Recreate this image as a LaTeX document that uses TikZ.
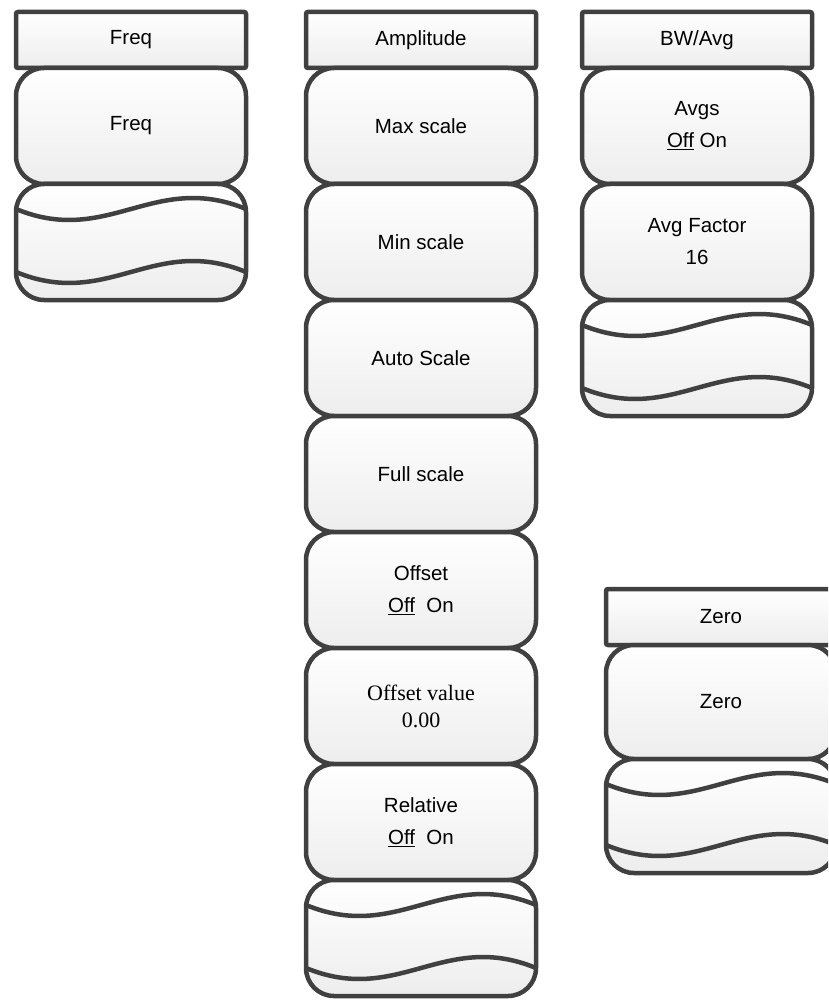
\documentclass[tikz,border=0pt]{standalone}
\usepackage{fontspec}
\setmainfont{Liberation Sans}
\newfontfamily\seriffont{Liberation Serif}
\usepackage{tikz}
\usetikzlibrary{positioning}
\definecolor{edge}{HTML}{404040}

\begin{document}
\begin{tikzpicture}[
    x=1pt, y=-1pt,
    node distance=0pt,
    every node/.style={outer sep=0pt, line width=4.5pt, draw=edge,
      top color=white, bottom color=black!7, align=center,
      font=\fontsize{20.5pt}{32pt}\selectfont},
    head/.style={rounded corners=2pt, minimum width=230pt, minimum height=56pt},
    softkey/.style={rounded corners=28pt, minimum width=230pt, minimum height=116pt},
    wave/.style={line width=4.5pt, draw=edge},
  ]
    \useasboundingbox (0,0) rectangle (828,1000);
    \clip (0,0) rectangle (828,1000);

    % Freq menu
    \node[head, anchor=north west] (freq) at (16,12) {Freq};
    \node[softkey, below=of freq] (freq1) {Freq};
    \node[softkey, below=of freq1] (freqmore) {};
    \draw[wave] ([yshift=-25pt]freqmore.north west) .. controls +(92pt,-38pt) and +(-92pt,38pt) .. ([yshift=-25pt]freqmore.north east);
    \draw[wave] ([yshift=28pt]freqmore.south west) .. controls +(92pt,-38pt) and +(-92pt,38pt) .. ([yshift=28pt]freqmore.south east);

    % Amplitude menu
    \node[head, anchor=north west] (amp) at (306,12) {Amplitude};
    \node[softkey, below=of amp] (amp1) {Max scale};
    \node[softkey, below=of amp1] (amp2) {Min scale};
    \node[softkey, below=of amp2] (amp3) {Auto Scale};
    \node[softkey, below=of amp3] (amp4) {Full scale};
    \node[softkey, below=of amp4] (amp5) {Offset\\\underline{Off}\hspace{0.55em}On};
    \node[softkey, below=of amp5, font=\seriffont\fontsize{22pt}{27pt}\selectfont] (amp6) {Offset value\\0.00};
    \node[softkey, below=of amp6] (amp7) {Relative\\\underline{Off}\hspace{0.55em}On};
    \node[softkey, below=of amp7] (ampmore) {};
    \draw[wave] ([yshift=-25pt]ampmore.north west) .. controls +(92pt,-38pt) and +(-92pt,38pt) .. ([yshift=-25pt]ampmore.north east);
    \draw[wave] ([yshift=28pt]ampmore.south west) .. controls +(92pt,-38pt) and +(-92pt,38pt) .. ([yshift=28pt]ampmore.south east);

    % BW/Avg menu
    \node[head, anchor=north west] (bw) at (582,12) {BW/Avg};
    \node[softkey, below=of bw] (bw1) {Avgs\\\underline{Off} On};
    \node[softkey, below=of bw1] (bw2) {Avg Factor\\16};
    \node[softkey, below=of bw2] (bwmore) {};
    \draw[wave] ([yshift=-25pt]bwmore.north west) .. controls +(92pt,-38pt) and +(-92pt,38pt) .. ([yshift=-25pt]bwmore.north east);
    \draw[wave] ([yshift=28pt]bwmore.south west) .. controls +(92pt,-38pt) and +(-92pt,38pt) .. ([yshift=28pt]bwmore.south east);

    % Zero menu
    \node[head, anchor=north west] (zero) at (606,589) {Zero};
    \node[softkey, below=of zero, minimum height=114pt] (zero1) {Zero};
    \node[softkey, below=of zero1, minimum height=114pt] (zeromore) {};
    \draw[wave] ([yshift=-25pt]zeromore.north west) .. controls +(92pt,-38pt) and +(-92pt,38pt) .. ([yshift=-25pt]zeromore.north east);
    \draw[wave] ([yshift=28pt]zeromore.south west) .. controls +(92pt,-38pt) and +(-92pt,38pt) .. ([yshift=28pt]zeromore.south east);
  \end{tikzpicture}
\end{document}
